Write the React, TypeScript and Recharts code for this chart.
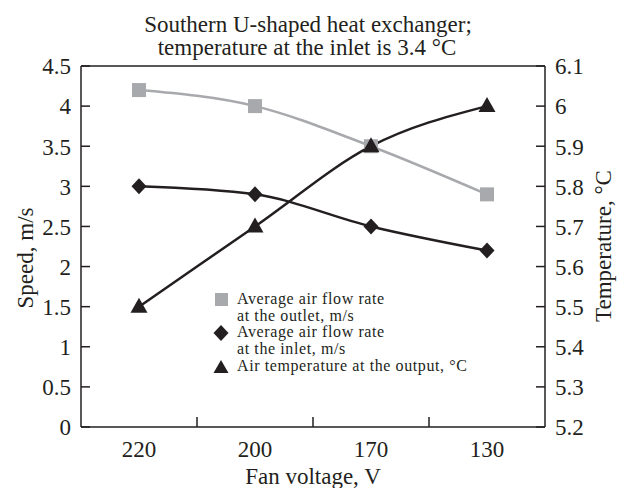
import React from "react";
import { Line, LineChart, ReferenceLine, XAxis, YAxis } from "recharts";

const categories = ["220", "200", "170", "130"];
const outletSpeed = [4.2, 4.0, 3.5, 2.9];
const inletSpeed = [3.0, 2.9, 2.5, 2.2];
const outletTemp = [5.5, 5.7, 5.9, 6.0];
const speedTicks = [0, 0.5, 1, 1.5, 2, 2.5, 3, 3.5, 4, 4.5];
const tempTicks = [5.2, 5.3, 5.4, 5.5, 5.6, 5.7, 5.8, 5.9, 6.0, 6.1];

const data = categories.map((c, i) => ({
  pos: i,
  label: c,
  outlet: outletSpeed[i],
  inlet: inletSpeed[i],
  temp: outletTemp[i],
}));

// category centres plus the half steps where the boundary ticks go
const xTicks = [0, 0.5, 1, 1.5, 2, 2.5, 3];

const W = 617;
const H = 488;
const FONT = "'Liberation Serif', 'Times New Roman', serif";
const INK = "#231f20";
const GREY = "#a7a9ac";

const fmt = (v: number) => String(Number(v.toFixed(1)));

const LeftTick = (props: any) => {
  const { x, y, payload } = props;
  return (
    <g>
      <line x1={x} x2={x + 9} y1={y} y2={y} stroke={INK} strokeWidth={1.5} />
      <text x={x - 10} y={y} dy="0.36em" textAnchor="end" fontSize={23} fontFamily={FONT} fill={INK}>
        {fmt(payload.value)}
      </text>
    </g>
  );
};

const RightTick = (props: any) => {
  const { x, y, payload } = props;
  return (
    <g>
      <line x1={x} x2={x - 9} y1={y} y2={y} stroke={INK} strokeWidth={1.5} />
      <text x={x + 10} y={y} dy="0.36em" textAnchor="start" fontSize={23} fontFamily={FONT} fill={INK}>
        {fmt(payload.value)}
      </text>
    </g>
  );
};

const BottomTick = (props: any) => {
  const { x, y, payload } = props;
  const v = payload.value as number;
  if (!Number.isInteger(v)) {
    return <line x1={x} x2={x} y1={y} y2={y - 10} stroke={INK} strokeWidth={1.5} />;
  }
  return (
    <text x={x} y={y + 30} textAnchor="middle" fontSize={23} fontFamily={FONT} fill={INK}>
      {categories[v]}
    </text>
  );
};

const SquareDot = (props: any) => {
  const { cx, cy, index } = props;
  return <rect key={`s${index}`} x={cx - 7} y={cy - 7} width={14} height={14} fill={GREY} />;
};

const DiamondDot = (props: any) => {
  const { cx, cy, index } = props;
  return (
    <polygon
      key={`d${index}`}
      points={`${cx},${cy - 8} ${cx + 7.5},${cy} ${cx},${cy + 8} ${cx - 7.5},${cy}`}
      fill={INK}
    />
  );
};

const TriangleDot = (props: any) => {
  const { cx, cy, index } = props;
  return (
    <polygon
      key={`t${index}`}
      points={`${cx},${cy - 9} ${cx + 8.5},${cy + 6} ${cx - 8.5},${cy + 6}`}
      fill={INK}
    />
  );
};

export default function App() {
  return (
    <div style={{ position: "absolute", left: 0, top: 0, width: W, height: H, background: "#fff" }}>
      <LineChart width={W} height={H} data={data} margin={{ top: 66, right: 0, bottom: 0, left: 0 }}>
        <XAxis
          dataKey="pos"
          type="number"
          domain={[-0.5, 3.5]}
          ticks={xTicks}
          interval={0}
          height={61}
          tickSize={0}
          tickMargin={0}
          tickLine={false}
          tick={<BottomTick />}
          axisLine={{ stroke: INK, strokeWidth: 1.5 }}
        />
        <YAxis
          yAxisId="speed"
          domain={[0, 4.5]}
          ticks={speedTicks}
          interval={0}
          width={81}
          tickSize={0}
          tickMargin={0}
          tickLine={false}
          tick={<LeftTick />}
          axisLine={{ stroke: INK, strokeWidth: 1.5 }}
        />
        <YAxis
          yAxisId="temp"
          orientation="right"
          domain={[5.2, 6.1]}
          ticks={tempTicks}
          interval={0}
          width={72}
          tickSize={0}
          tickMargin={0}
          tickLine={false}
          tick={<RightTick />}
          axisLine={{ stroke: INK, strokeWidth: 1.5 }}
        />
        <ReferenceLine yAxisId="speed" y={4.5} stroke={INK} strokeWidth={1.5} />
        <Line
          yAxisId="speed"
          type="monotone"
          dataKey="outlet"
          stroke={GREY}
          strokeWidth={2.5}
          dot={SquareDot}
          activeDot={false}
          isAnimationActive={false}
        />
        <Line
          yAxisId="speed"
          type="monotone"
          dataKey="inlet"
          stroke={INK}
          strokeWidth={2.5}
          dot={DiamondDot}
          activeDot={false}
          isAnimationActive={false}
        />
        <Line
          yAxisId="temp"
          type="monotone"
          dataKey="temp"
          stroke={INK}
          strokeWidth={2.5}
          dot={TriangleDot}
          activeDot={false}
          isAnimationActive={false}
        />
      </LineChart>
      <svg
        width={W}
        height={H}
        style={{ position: "absolute", left: 0, top: 0, pointerEvents: "none" }}
        fontFamily={FONT}
        fill={INK}
      >
        <text x={308} y={32} textAnchor="middle" fontSize={23}>
          Southern U-shaped heat exchanger;
        </text>
        <text x={307} y={55} textAnchor="middle" fontSize={23}>
          temperature at the inlet is 3.4 °C
        </text>
        <text x={313} y={484} textAnchor="middle" fontSize={23}>
          Fan voltage, V
        </text>
        <text transform="translate(33 258) rotate(-90)" textAnchor="middle" fontSize={23}>
          Speed, m/s
        </text>
        <text transform="translate(611 246) rotate(-90)" textAnchor="middle" fontSize={23}>
          Temperature, °C
        </text>
        <g fontSize={16} letterSpacing={0.6}>
          <rect x={215} y={293} width={13} height={13} fill={GREY} />
          <text x={237} y={304}>Average air flow rate</text>
          <text x={237} y={320.5}>at the outlet, m/s</text>
          <polygon points="221,325 228.5,333 221,341 213.5,333" fill={INK} />
          <text x={237} y={337}>Average air flow rate</text>
          <text x={237} y={354}>at the inlet, m/s</text>
          <polygon points="221,360 228.5,373 213.5,373" fill={INK} />
          <text x={237} y={370.5}>Air temperature at the output, °C</text>
        </g>
      </svg>
    </div>
  );
}
